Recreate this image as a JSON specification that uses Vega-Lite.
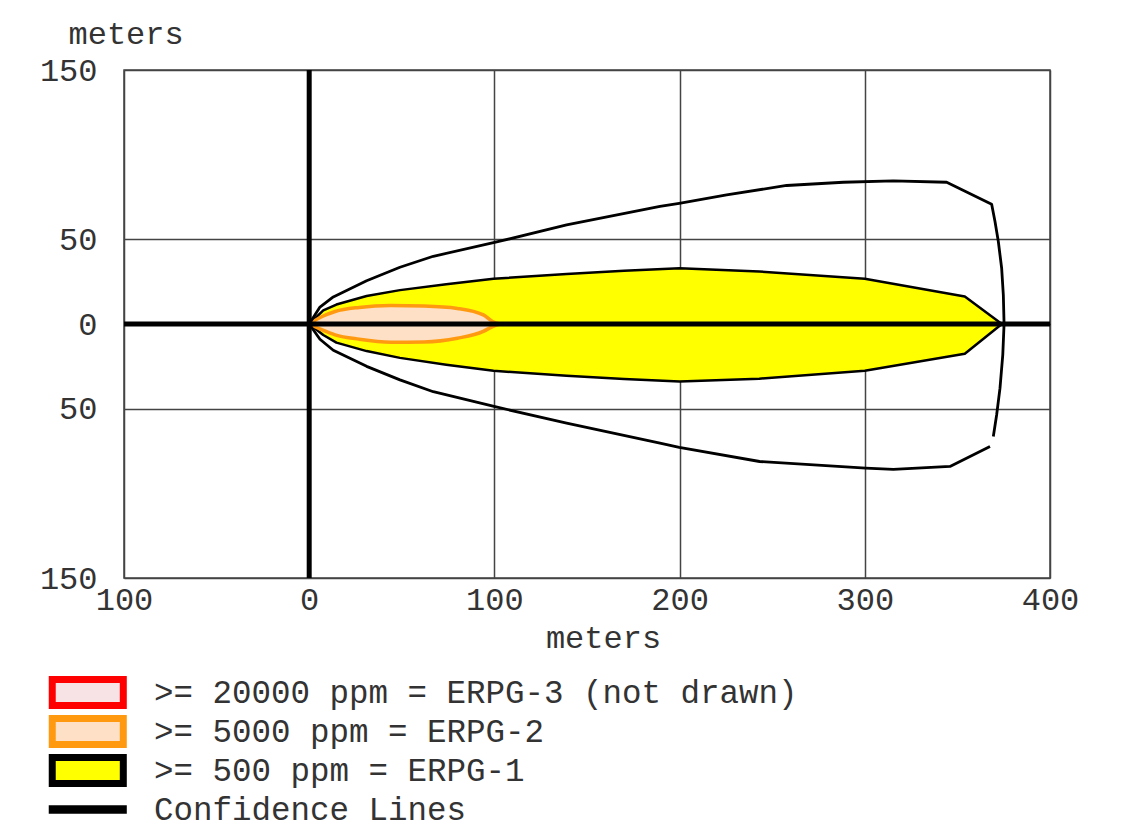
{
  "$schema": "https://vega.github.io/schema/vega-lite/v6.json",
  "width": 926,
  "height": 508,
  "autosize": {"type": "none"},
  "padding": {"left": 124, "top": 70, "right": 88, "bottom": 246},
  "background": "white",
  "config": {
    "font": "Liberation Mono",
    "view": {"stroke": "#444", "strokeWidth": 1.5},
    "axis": {
      "labelFont": "Liberation Mono",
      "labelFontSize": 32,
      "labelColor": "#333",
      "titleFont": "Liberation Mono",
      "titleFontSize": 32,
      "titleFontWeight": "normal",
      "titleColor": "#333",
      "grid": true,
      "gridColor": "#444",
      "gridWidth": 1.5,
      "gridOpacity": 1,
      "domain": false,
      "ticks": false,
      "labelFlush": false,
      "labelOverlap": false,
      "zindex": 1
    }
  },
  "datasets": {
    "erpg1": [
      {"x": 0, "hi": 0, "lo": 0},
      {"x": 7.6, "hi": 8, "lo": -6.5},
      {"x": 14.7, "hi": 11.5, "lo": -11},
      {"x": 31, "hi": 16.5, "lo": -16},
      {"x": 49, "hi": 20, "lo": -20},
      {"x": 74, "hi": 23.5, "lo": -24},
      {"x": 99.5, "hi": 26.7, "lo": -27.6},
      {"x": 139, "hi": 29.5, "lo": -30.6},
      {"x": 170, "hi": 31.5, "lo": -32.5},
      {"x": 200, "hi": 32.9, "lo": -33.9},
      {"x": 243, "hi": 31, "lo": -32.3},
      {"x": 300, "hi": 26.7, "lo": -27.6},
      {"x": 354, "hi": 16.2, "lo": -17.6},
      {"x": 374, "hi": 0, "lo": 0}
    ],
    "erpg2": [
      {"x": 0, "hi": 0, "lo": 0},
      {"x": 7, "hi": 4.4, "lo": -3.5},
      {"x": 14, "hi": 7.4, "lo": -6.4},
      {"x": 27, "hi": 9.8, "lo": -9},
      {"x": 44, "hi": 10.9, "lo": -10.8},
      {"x": 62, "hi": 10.6, "lo": -10.6},
      {"x": 80, "hi": 9.2, "lo": -8.4},
      {"x": 94, "hi": 5.4, "lo": -4.4},
      {"x": 99, "hi": 1.5, "lo": -1.5},
      {"x": 103, "hi": 0, "lo": 0}
    ],
    "confidence": [
      {"part": "a", "i": 0, "x": 0, "y": 0},
      {"part": "a", "i": 1, "x": 5.8, "y": 10},
      {"part": "a", "i": 2, "x": 13, "y": 16},
      {"part": "a", "i": 3, "x": 31, "y": 25.5},
      {"part": "a", "i": 4, "x": 49, "y": 33.5},
      {"part": "a", "i": 5, "x": 67, "y": 40},
      {"part": "a", "i": 6, "x": 99.5, "y": 48},
      {"part": "a", "i": 7, "x": 139, "y": 58.5},
      {"part": "a", "i": 8, "x": 189.4, "y": 69.4},
      {"part": "a", "i": 9, "x": 199.8, "y": 71.3},
      {"part": "a", "i": 10, "x": 225.4, "y": 76.3},
      {"part": "a", "i": 11, "x": 257.8, "y": 81.8},
      {"part": "a", "i": 12, "x": 288.4, "y": 83.7},
      {"part": "a", "i": 13, "x": 315.4, "y": 84.5},
      {"part": "a", "i": 14, "x": 344.2, "y": 83.7},
      {"part": "a", "i": 15, "x": 368.5, "y": 70.7},
      {"part": "a", "i": 16, "x": 370.3, "y": 60.5},
      {"part": "a", "i": 17, "x": 372.1, "y": 48.7},
      {"part": "a", "i": 18, "x": 373.9, "y": 32.9},
      {"part": "a", "i": 19, "x": 374.8, "y": 17.2},
      {"part": "a", "i": 20, "x": 375.2, "y": 0},
      {"part": "a", "i": 21, "x": 374.5, "y": -18.2},
      {"part": "a", "i": 22, "x": 373, "y": -37.9},
      {"part": "a", "i": 23, "x": 371.2, "y": -53.6},
      {"part": "a", "i": 24, "x": 369.4, "y": -66.4},
      {"part": "b", "i": 0, "x": 367.6, "y": -72.3},
      {"part": "b", "i": 1, "x": 346, "y": -84.1},
      {"part": "b", "i": 2, "x": 315.4, "y": -85.8},
      {"part": "b", "i": 3, "x": 300.5, "y": -85.1},
      {"part": "b", "i": 4, "x": 243.2, "y": -81.2},
      {"part": "b", "i": 5, "x": 199.8, "y": -72.9},
      {"part": "b", "i": 6, "x": 189.4, "y": -70.4},
      {"part": "b", "i": 7, "x": 139, "y": -58.6},
      {"part": "b", "i": 8, "x": 99.8, "y": -48.7},
      {"part": "b", "i": 9, "x": 67, "y": -40},
      {"part": "b", "i": 10, "x": 49, "y": -33},
      {"part": "b", "i": 11, "x": 31, "y": -25},
      {"part": "b", "i": 12, "x": 13, "y": -15.5},
      {"part": "b", "i": 13, "x": 5.8, "y": -9},
      {"part": "b", "i": 14, "x": 0, "y": 0}
    ],
    "legend": [
      {"zone": ">= 20000 ppm = ERPG-3 (not drawn)"},
      {"zone": ">= 5000 ppm = ERPG-2"},
      {"zone": ">= 500 ppm = ERPG-1"},
      {"zone": "Confidence Lines"}
    ]
  },
  "layer": [
    {
      "data": {"name": "erpg1"},
      "mark": {"type": "area", "fill": "#ffff00", "stroke": "#000", "strokeWidth": 2.5, "strokeJoin": "round"},
      "encoding": {
        "x": {
          "field": "x", "type": "quantitative",
          "scale": {"domain": [-100, 400], "nice": false, "zero": false},
          "axis": {
            "values": [-100, 0, 100, 200, 300, 400],
            "labelExpr": "'' + abs(datum.value)",
            "gridColor": {"condition": {"test": "datum.value === 0", "value": "#000"}, "value": "#444"},
            "labelPadding": 6,
            "title": "meters",
            "titleX": 479,
            "titleY": 59,
            "titleBaseline": "middle"
          }
        },
        "y": {
          "field": "hi", "type": "quantitative",
          "scale": {"domain": [-150, 150], "nice": false, "zero": false},
          "axis": {
            "values": [-150, -50, 0, 50, 150],
            "labelExpr": "'' + abs(datum.value)",
            "gridColor": {"condition": {"test": "datum.value === 0", "value": "#000"}, "value": "#444"},
            "labelPadding": 27,
            "title": "meters",
            "titleAngle": 0,
            "titleAlign": "left",
            "titleBaseline": "middle",
            "titleX": -56,
            "titleY": -37
          }
        },
        "y2": {"field": "lo"}
      }
    },
    {
      "data": {"name": "erpg2"},
      "mark": {"type": "area", "fill": "#fde0c6", "stroke": "#ff9a10", "strokeWidth": 3.5, "strokeJoin": "round", "interpolate": "monotone"},
      "encoding": {
        "x": {"field": "x", "type": "quantitative"},
        "y": {"field": "hi", "type": "quantitative"},
        "y2": {"field": "lo"}
      }
    },
    {
      "data": {"name": "confidence"},
      "mark": {"type": "line", "color": "#000", "strokeWidth": 2.8, "strokeJoin": "round"},
      "encoding": {
        "x": {"field": "x", "type": "quantitative"},
        "y": {"field": "y", "type": "quantitative"},
        "detail": {"field": "part"},
        "order": {"field": "i", "type": "quantitative"}
      }
    },
    {
      "data": {"values": [{"v": 0}]},
      "mark": {"type": "rule", "color": "#000", "strokeWidth": 5},
      "encoding": {"y": {"field": "v", "type": "quantitative"}}
    },
    {
      "data": {"values": [{"v": 0}]},
      "mark": {"type": "rule", "color": "#000", "strokeWidth": 5},
      "encoding": {"x": {"field": "v", "type": "quantitative"}}
    },
    {
      "data": {"name": "legend"},
      "mark": {"type": "point", "strokeWidth": 7},
      "encoding": {
        "opacity": {"value": 0},
        "fill": {
          "field": "zone", "type": "nominal",
          "scale": {
            "domain": [">= 20000 ppm = ERPG-3 (not drawn)", ">= 5000 ppm = ERPG-2", ">= 500 ppm = ERPG-1", "Confidence Lines"],
            "range": ["#f7e3e6", "#fde0c6", "#ffff00", "#000000"]
          },
          "legend": {
            "title": null, "orient": "none", "legendX": -79, "legendY": 603.5,
            "direction": "vertical", "symbolSize": 1156, "symbolStrokeWidth": 7,
            "symbolOpacity": 1, "clipHeight": 38,
            "labelFont": "Liberation Mono", "labelFontSize": 32.5, "labelColor": "#333",
            "labelOffset": 68, "labelLimit": 0, "rowPadding": 1, "padding": 0
          }
        },
        "stroke": {
          "field": "zone", "type": "nominal",
          "scale": {
            "domain": [">= 20000 ppm = ERPG-3 (not drawn)", ">= 5000 ppm = ERPG-2", ">= 500 ppm = ERPG-1", "Confidence Lines"],
            "range": ["#ff0000", "#ff9a10", "#000000", "#000000"]
          },
          "legend": {
            "title": null, "orient": "none", "legendX": -79, "legendY": 603.5,
            "direction": "vertical", "symbolSize": 1156, "symbolStrokeWidth": 7,
            "symbolOpacity": 1, "clipHeight": 38,
            "labelFont": "Liberation Mono", "labelFontSize": 32.5, "labelColor": "#333",
            "labelOffset": 68, "labelLimit": 0, "rowPadding": 1, "padding": 0
          }
        },
        "shape": {
          "field": "zone", "type": "nominal",
          "scale": {
            "domain": [">= 20000 ppm = ERPG-3 (not drawn)", ">= 5000 ppm = ERPG-2", ">= 500 ppm = ERPG-1", "Confidence Lines"],
            "range": ["M-0.78,-0.77H3.4V0.77H-0.78Z", "M-0.78,-0.77H3.4V0.77H-0.78Z", "M-0.78,-0.77H3.4V0.77H-0.78Z", "M-0.78,-0.04H3.4V0.04H-0.78Z"]
          },
          "legend": {
            "title": null, "orient": "none", "legendX": -79, "legendY": 603.5,
            "direction": "vertical", "symbolSize": 1156, "symbolStrokeWidth": 7,
            "symbolOpacity": 1, "clipHeight": 38,
            "labelFont": "Liberation Mono", "labelFontSize": 32.5, "labelColor": "#333",
            "labelOffset": 68, "labelLimit": 0, "rowPadding": 1, "padding": 0
          }
        }
      }
    }
  ]
}
